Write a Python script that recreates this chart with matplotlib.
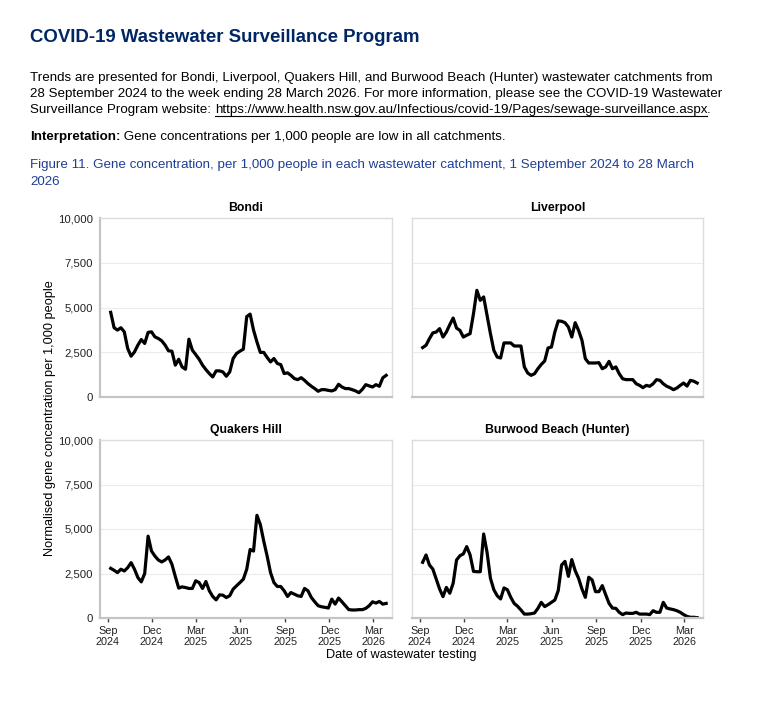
import numpy as np
import pandas as pd
import matplotlib
matplotlib.use("Agg")
import matplotlib.pyplot as plt
from matplotlib.lines import Line2D

plt.rcParams['font.family'] = ['Liberation Sans', 'DejaVu Sans']

# weekly samples, weeks ending Saturday 7 Sep 2024 .. 28 Mar 2026
dates = pd.date_range("2024-09-07", "2026-03-28", freq="7D")

bondi = [4730, 3870, 3740, 3870, 3640, 2710, 2280, 2520, 2900, 3210,
         2990, 3610, 3640, 3360, 3270, 3140, 2900, 2580, 2560, 1780,
         2110, 1680, 1550, 3230, 2620, 2370, 2110, 1780, 1530, 1310,
         1120, 1460, 1460, 1400, 1160, 1400, 2150, 2430, 2560, 2670,
         4490, 4630, 3740, 3080, 2490, 2490, 2210, 1960, 2150, 1870,
         1810, 1310, 1350, 1210, 1030, 970, 1080, 930, 750, 600,
         470, 320, 410, 410, 370, 340, 410, 710, 560, 470,
         470, 410, 340, 240, 430, 690, 620, 560, 690, 600,
         1070, 1210]

liverpool = [2760, 2890, 3260, 3580, 3630, 3820, 3350, 3630, 4040, 4410,
             3850, 3720, 3350, 3450, 3540, 4660, 5960, 5400, 5590, 4560,
             3540, 2610, 2230, 2180, 3020, 3020, 3020, 2850, 2850, 2850,
             1680, 1340, 1210, 1300, 1580, 1820, 2010, 2740, 2790, 3630,
             4250, 4230, 4150, 3910, 3350, 4150, 3720, 3170, 2140, 1900,
             1900, 1900, 1920, 1580, 1680, 1990, 1580, 1680, 1300, 1020,
             970, 970, 970, 740, 650, 520, 650, 600, 740, 970,
             930, 740, 600, 520, 410, 500, 650, 780, 610, 930,
             880, 780]

quakers_hill = [2790, 2680, 2550, 2740, 2640, 2830, 3110, 2740, 2270, 2030,
                2500, 4600, 3760, 3480, 3260, 3150, 3260, 3430, 3020, 2330,
                1680, 1750, 1710, 1660, 1660, 2090, 1990, 1660, 2050, 1530,
                1210, 1020, 1300, 1280, 1150, 1250, 1620, 1810, 1990, 2180,
                2740, 3850, 3760, 5770, 5250, 4320, 3480, 2550, 1990, 1770,
                1770, 1530, 1210, 1430, 1340, 1250, 1210, 1660, 1530, 1150,
                910, 690, 630, 600, 560, 1060, 780, 1120, 910, 690,
                470, 450, 450, 470, 470, 540, 690, 910, 840, 930,
                780, 820]

burwood_beach = [3130, 3540, 2980, 2750, 2190, 1630, 1200, 1720, 1390, 1950,
                 3260, 3500, 3600, 4010, 3540, 2620, 2600, 2600, 4720, 3690,
                 2230, 1590, 1250, 1070, 1690, 1590, 1160, 820, 660, 450,
                 220, 220, 240, 280, 540, 880, 640, 750, 880, 1010,
                 1540, 2980, 3180, 2340, 3280, 2660, 2230, 1630, 1160, 2290,
                 2140, 1480, 1480, 1820, 1310, 820, 560, 540, 320, 190,
                 280, 260, 260, 320, 220, 220, 220, 190, 410, 320,
                 320, 880, 560, 510, 470, 410, 320, 190, 90, 40,
                 40, 20]

panel_titles = ["Bondi", "Liverpool", "Quakers Hill", "Burwood Beach (Hunter)"]
series = [bondi, liverpool, quakers_hill, burwood_beach]

y_ticks = [0, 2500, 5000, 7500, 10000]
x_tick_dates = pd.to_datetime(["2024-09-01", "2024-12-01", "2025-03-01", "2025-06-01",
                               "2025-09-01", "2025-12-01", "2026-03-01"])
x_tick_labels = ["Sep\n2024", "Dec\n2024", "Mar\n2025", "Jun\n2025",
                 "Sep\n2025", "Dec\n2025", "Mar\n2026"]

W, H = 762, 722
fig = plt.figure(figsize=(W / 100, H / 100), dpi=100)

# header text
navy = "#002664"
fs = 9.6
fig.text(30 / W, 1 - 37 / H, "COVID-19 Wastewater Surveillance Program",
         fontsize=13.4, fontweight="bold", color=navy, va="center")
fig.text(30 / W, 1 - 78 / H,
         "Trends are presented for Bondi, Liverpool, Quakers Hill, and Burwood Beach (Hunter) wastewater catchments from",
         fontsize=fs, va="center")
fig.text(30 / W, 1 - 94 / H,
         "28 September 2024 to the week ending 28 March 2026. For more information, please see the COVID-19 Wastewater",
         fontsize=fs, va="center")
t1 = fig.text(30 / W, 1 - 110 / H, "Surveillance Program website: ", fontsize=fs, va="center")
renderer = fig.canvas.get_renderer()
bb1 = t1.get_window_extent(renderer)
url = fig.text(bb1.x1 / W, 1 - 110 / H,
               "https://www.health.nsw.gov.au/Infectious/covid-19/Pages/sewage-surveillance.aspx",
               fontsize=fs, va="center")
bb2 = url.get_window_extent(renderer)
fig.text(bb2.x1 / W, 1 - 110 / H, ".", fontsize=fs, va="center")
fig.add_artist(Line2D([bb2.x0 / W, bb2.x1 / W], [1 - 116 / H, 1 - 116 / H],
                      color="black", lw=0.8))

t2 = fig.text(30 / W, 1 - 137 / H, "Interpretation:", fontsize=fs,
              fontweight="bold", va="center")
bb3 = t2.get_window_extent(renderer)
fig.text(bb3.x1 / W, 1 - 137 / H,
         " Gene concentrations per 1,000 people are low in all catchments.",
         fontsize=fs, va="center")

cap_color = "#1f3f95"
fig.text(30 / W, 1 - 165 / H,
         "Figure 11. Gene concentration, per 1,000 people in each wastewater catchment, 1 September 2024 to 28 March",
         fontsize=fs, color=cap_color, va="center")
fig.text(30 / W, 1 - 182 / H, "2026", fontsize=fs, color=cap_color, va="center")

# panels (pixel boxes: left, top, right, bottom)
boxes = [(100, 218, 392, 397), (412, 218, 703, 397),
         (100, 440, 392, 618), (412, 440, 703, 618)]

x_lo = pd.Timestamp("2024-08-16")
x_hi = pd.Timestamp("2026-04-09")

for i, (l, t, r, b) in enumerate(boxes):
    ax = fig.add_axes([l / W, 1 - b / H, (r - l) / W, (b - t) / H])
    ax.plot(dates, series[i], color="black", lw=2.3, solid_joinstyle="round")
    ax.set_xlim(x_lo, x_hi)
    ax.set_ylim(0, 10000)
    ax.set_yticks(y_ticks)
    for yv in y_ticks[1:-1]:
        ax.axhline(yv, color="#ececec", lw=0.8, zorder=0)
    ax.set_title(panel_titles[i], fontsize=8.8, fontweight="bold", pad=5)

    for side in ["top", "right", "left", "bottom"]:
        ax.spines[side].set_color("#dcdcdc")
        ax.spines[side].set_linewidth(1.0)
    ax.spines["bottom"].set_color("#c4c4c4")
    ax.spines["bottom"].set_linewidth(1.6)

    if i % 2 == 0:
        ax.set_yticklabels([f"{v:,}" for v in y_ticks])
        ax.spines["left"].set_color("#c4c4c4")
        ax.spines["left"].set_linewidth(1.6)
    else:
        ax.set_yticklabels([])
    ax.tick_params(axis="y", length=0, pad=5, labelsize=8.2, labelcolor="#222222")

    ax.set_xticks(x_tick_dates)
    if i >= 2:
        ax.set_xticklabels(x_tick_labels)
        ax.tick_params(axis="x", length=3, width=1, color="#444444", pad=3,
                       labelsize=7.8, labelcolor="#222222")
    else:
        ax.set_xticklabels([])
        ax.tick_params(axis="x", length=0)
    for lab in ax.get_xticklabels():
        lab.set_linespacing(1.1)

fig.text(50 / W, 1 - 418 / H, "Normalised gene concentration per 1,000 people",
         rotation=90, fontsize=9.2, ha="center", va="center")
fig.text(401 / W, 1 - 655 / H, "Date of wastewater testing",
         fontsize=9.2, ha="center", va="center")

plt.savefig("out.png", dpi=100)
